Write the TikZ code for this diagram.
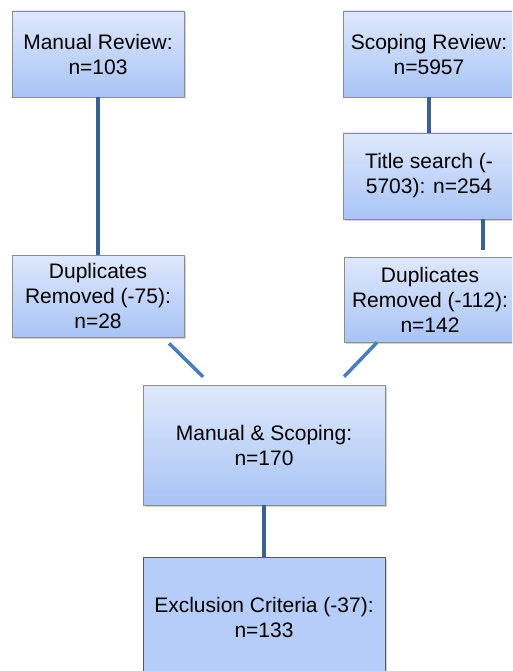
\documentclass[tikz,border=0pt]{standalone}
\usepackage{fontspec}
\setmainfont{Liberation Sans}
\usetikzlibrary{shadows}
\definecolor{boxtop}{RGB}{223,232,252}
\definecolor{boxbot}{RGB}{168,196,245}
\definecolor{boxflat}{RGB}{181,205,248}
\definecolor{boxline}{RGB}{140,140,140}
\definecolor{linkdark}{RGB}{58,96,148}
\definecolor{linklight}{RGB}{74,126,187}
\begin{document}
\begin{tikzpicture}[x=1pt,y=-1pt,
    box/.style={draw=boxline,line width=0.8pt,top color=boxtop,bottom color=boxbot,
      align=center,inner sep=0pt,font=\fontsize{21}{25}\selectfont,
      drop shadow={shadow xshift=1.5pt,shadow yshift=-1.5pt,opacity=0.35}},
    link/.style={line width=3.5pt,linkdark},
    slant/.style={line width=3.5pt,linklight}]
    \useasboundingbox (0,0) rectangle (512,671);
    \clip (0,0) rectangle (512,671);
    \node[box,minimum width=172pt,minimum height=86pt] (manual) at (98,54) {Manual Review:\\n=103};
    \node[box,minimum width=172pt,minimum height=86pt] (scoping) at (429,54) {Scoping Review:\\n=5957};
    \node[box,minimum width=172pt,minimum height=86pt] (title) at (429,176) {Title search (-\\5703): n=254};
    \node[box,minimum width=172pt,minimum height=82pt] (dupL) at (98,296) {Duplicates\\Removed (-75):\\n=28};
    \node[box,minimum width=172pt,minimum height=85pt] (dupR) at (430,299.5) {Duplicates\\Removed (-112):\\n=142};
    \node[box,minimum width=242pt,minimum height=120pt] (mands) at (264,445) {Manual \& Scoping:\\n=170};
    \node[box,draw=black!65,fill=boxflat,top color=boxflat,bottom color=boxflat,
      minimum width=242pt,minimum height=120pt] (excl) at (264,617) {Exclusion Criteria (-37):\\n=133};
    \draw[link] (manual) -- (dupL);
    \draw[link] (scoping) -- (title);
    \draw[link,shorten >=7pt] ([xshift=54pt]title.south) -- ([xshift=54pt]title.south |- dupR.north);
    \draw[slant,shorten <=8.5pt,shorten >=11pt] ([xshift=65pt]dupL.south) -- ([xshift=-53pt]mands.north);
    \draw[slant,shorten >=11pt] ([xshift=-53pt]dupR.south) -- ([xshift=72.5pt]mands.north);
    \draw[link] (mands) -- (excl);
\end{tikzpicture}
\end{document}
